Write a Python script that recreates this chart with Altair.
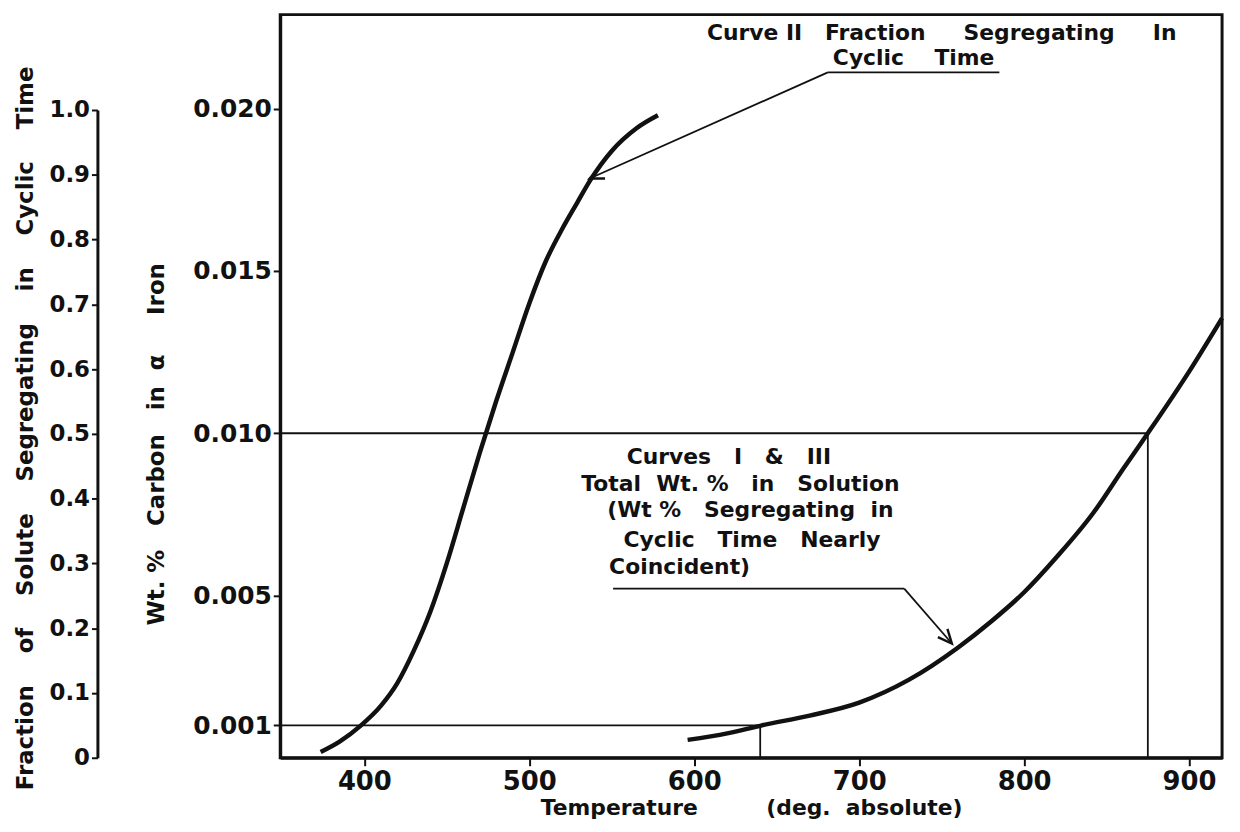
import altair as alt
import pandas as pd

NB = "\u00a0"

# ---------------- data ----------------
# Curve II : fraction segregating in cyclic time (plotted on wt.% scale)
c2_temp = [373.5, 385, 398, 410, 420, 430, 440, 450, 460, 470, 480, 490, 500, 510, 520, 529, 537, 550, 565, 578]
c2_wt = [0.00018, 0.0005, 0.0010, 0.0016, 0.0023, 0.0033, 0.0045, 0.0060, 0.0077, 0.0094, 0.0110,
         0.0125, 0.0140, 0.0153, 0.0163, 0.0171, 0.0178, 0.0187, 0.0194, 0.0198]

# Curves I & III : total wt.% in solution
c13_temp = [596, 620, 641, 670, 700, 730, 760, 780, 800, 820, 842, 860, 875, 900, 920]
c13_wt = [0.00055, 0.00075, 0.0010, 0.0013, 0.0017, 0.0024, 0.0034, 0.0042, 0.0051, 0.0062,
          0.00755, 0.0089, 0.0100, 0.0119, 0.01355]

# guide lines (horizontal from left axis to temperature, vertical down to axis)
guide_wt = [0.001, 0.010]
guide_temp = [640, 875]

x_ticks = [400, 500, 600, 700, 800, 900]
y_ticks = [0.001, 0.005, 0.010, 0.015, 0.020]
frac_ticks = [0, 0.1, 0.2, 0.3, 0.4, 0.5, 0.6, 0.7, 0.8, 0.9, 1.0]

X_MIN, X_MAX = 349, 920
Y_MIN, Y_MAX = 0.0, 0.0229

# annotation text (centered)
ann_text = [
    "Curve" + NB + "II" + NB * 3 + "Fraction" + NB * 5 + "Segregating" + NB * 5 + "In",
    "Cyclic" + NB * 4 + "Time",
    "Curves" + NB * 3 + "I" + NB * 3 + "&" + NB * 3 + "III",
    "Total" + NB * 2 + "Wt." + NB + "%" + NB * 3 + "in" + NB * 3 + "Solution",
    "(Wt" + NB + "%" + NB * 3 + "Segregating" + NB * 2 + "in",
    "Cyclic" + NB * 3 + "Time" + NB * 3 + "Nearly",
]
ann_temp = [750, 733, 621, 628, 634, 635]
ann_wt = [0.02233, 0.02155, 0.00928, 0.00845, 0.00762, 0.00671]

# annotation text (left aligned)
ann_left_text = ["Coincident)"]
ann_left_temp = [548.4]
ann_left_wt = [0.00588]

# underlines and leader lines (start -> end)
lead_t1 = [681.0, 681.0, 550.8, 727.3]
lead_w1 = [0.02112, 0.02112, 0.00521, 0.00521]
lead_t2 = [785.0, 536.6, 727.3, 756.2]
lead_w2 = [0.02112, 0.01785, 0.00521, 0.00352]

# arrow heads
arrow_temp = [536.6, 756.2]
arrow_wt = [0.01785, 0.00352]
arrow_angle = [156.0, 48.9]

# ---------------- tables ----------------
df_c2 = pd.DataFrame({"t": c2_temp, "w": c2_wt, "curve": "II"})
df_c13 = pd.DataFrame({"t": c13_temp, "w": c13_wt, "curve": "I & III"})
df_h = pd.DataFrame({"t": [X_MIN] * len(guide_temp), "t2": guide_temp, "w": guide_wt})
df_v = pd.DataFrame({"t": guide_temp, "w": [Y_MIN] * len(guide_wt), "w2": guide_wt})
df_ann = pd.DataFrame({"t": ann_temp, "w": ann_wt, "text": ann_text})
df_annl = pd.DataFrame({"t": ann_left_temp, "w": ann_left_wt, "text": ann_left_text})
df_lead = pd.DataFrame({"t": lead_t1, "w": lead_w1, "t2": lead_t2, "w2": lead_w2})
df_arrow = pd.DataFrame({"t": arrow_temp, "w": arrow_wt, "ang": arrow_angle})
df_frac = pd.DataFrame({"t": [X_MIN, X_MIN], "f": [0.0, 1.0]})

FONT = "DejaVu Sans"
INK = "#111111"

xscale = alt.Scale(domain=[X_MIN, X_MAX], nice=False, zero=False)
yscale = alt.Scale(domain=[Y_MIN, Y_MAX], nice=False, zero=False)

xaxis = alt.Axis(
    values=x_ticks, format="d", labelFontSize=26, labelPadding=3, tickSize=8,
    title="Temperature" + NB * 9 + "(deg." + NB * 2 + "absolute)",
    titleFontSize=22, titleY=50, titleBaseline="middle",
)
yaxis = alt.Axis(
    values=y_ticks, format=".3f", labelFontSize=25, labelPadding=2, tickSize=7,
    title="Wt." + NB + "%" + NB * 3 + "Carbon" + NB * 3 + "in" + NB * 2 + "α" + NB * 5 + "Iron",
    titleFontSize=23, titleX=-124, titleY=432,
    titleAlign="center", titleBaseline="middle",
)


def X(field="t"):
    return alt.X(field, type="quantitative", scale=xscale, axis=xaxis)


def Y(field="w"):
    return alt.Y(field, type="quantitative", scale=yscale, axis=yaxis)


curve2 = alt.Chart(df_c2).mark_line(color=INK, strokeWidth=4.5, interpolate="monotone").encode(x=X(), y=Y())
curve13 = alt.Chart(df_c13).mark_line(color=INK, strokeWidth=4.5, interpolate="monotone").encode(x=X(), y=Y())

hlines = alt.Chart(df_h).mark_rule(color=INK, strokeWidth=1.8).encode(x=X(), x2="t2", y=Y())
vlines = alt.Chart(df_v).mark_rule(color=INK, strokeWidth=1.8).encode(x=X(), y=Y(), y2="w2")

leads = alt.Chart(df_lead).mark_rule(color=INK, strokeWidth=1.8).encode(x=X(), x2="t2", y=Y(), y2="w2")

arrows = alt.Chart(df_arrow).mark_point(
    shape="M-1,-0.45L0,0L-1,0.45", filled=False, color=INK, strokeWidth=2.4, size=800, opacity=1
).encode(x=X(), y=Y(), angle=alt.Angle("ang:Q", scale=None))

texts = alt.Chart(df_ann).mark_text(
    font=FONT, fontSize=22, fontWeight="bold", color=INK, align="center", baseline="middle"
).encode(x=X(), y=Y(), text="text:N")

texts_left = alt.Chart(df_annl).mark_text(
    font=FONT, fontSize=22, fontWeight="bold", color=INK, align="left", baseline="middle"
).encode(x=X(), y=Y(), text="text:N")

frac_axis = alt.Axis(
    orient="left", offset=184, values=frac_ticks,
    labelExpr="datum.value == 0 ? '0' : format(datum.value, '.1f')",
    labelFontSize=23, labelPadding=2, tickSize=6,
    title="Fraction" + NB * 4 + "of" + NB * 4 + "Solute" + NB * 4 + "Segregating" + NB * 4 + "in"
          + NB * 4 + "Cyclic" + NB * 4 + "Time",
    titleFontSize=23, titleX=-72, titleY=416,
    titleAlign="center", titleBaseline="middle",
)
frac_layer = alt.Chart(df_frac).mark_point(opacity=0).encode(
    x=X(),
    y=alt.Y("f:Q", scale=alt.Scale(domain=[0, 1], range=[748, 96], nice=False, zero=False), axis=frac_axis),
)

main = alt.layer(hlines, vlines, curve2, curve13, leads, arrows, texts, texts_left)

chart = alt.layer(main, frac_layer).resolve_scale(y="independent").properties(
    width=948, height=748,
    autosize=alt.AutoSizeParams(type="none"),
    padding={"left": 274, "top": 4, "right": 10, "bottom": 64},
    background="white",
).configure_view(
    stroke=INK, strokeWidth=3
).configure_axis(
    domainColor=INK, domainWidth=3, tickColor=INK, tickWidth=2, grid=False,
    labelFont=FONT, titleFont=FONT, labelColor=INK, titleColor=INK,
    labelFontWeight="bold", titleFontWeight="bold",
)

chart.save("out.html", embed_options={"renderer": "svg", "actions": False})
